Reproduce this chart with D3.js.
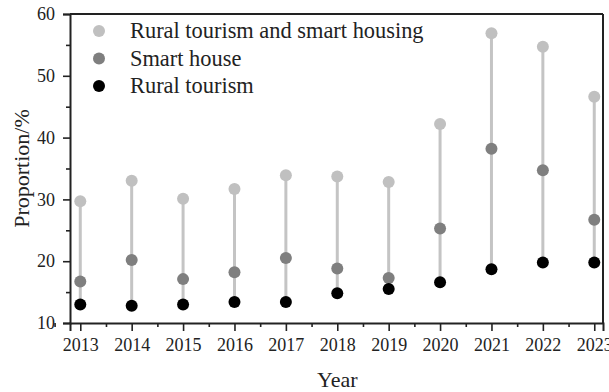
<!DOCTYPE html>
<html>
<head>
<meta charset="utf-8">
<script src="https://cdn.jsdelivr.net/npm/d3@7/dist/d3.min.js"></script>
<style>
  html, body { margin: 0; padding: 0; background: #fff; }
  svg { display: block; font-family: "Liberation Serif", "Times New Roman", serif; }
</style>
</head>
<body>
<svg id="chart" width="609" height="392"></svg>
<script>
// Share of rural tourism, smart house and combined, per year (%)
const years = [2013, 2014, 2015, 2016, 2017, 2018, 2019, 2020, 2021, 2022, 2023];
const combined = [29.7, 33.0, 30.1, 31.7, 33.9, 33.7, 32.8, 42.2, 56.9, 54.7, 46.6];
const smartHouse = [16.7, 20.2, 17.1, 18.2, 20.5, 18.8, 17.3, 25.3, 38.2, 34.7, 26.7];
const ruralTourism = [13.0, 12.8, 13.0, 13.4, 13.4, 14.8, 15.5, 16.6, 18.7, 19.8, 19.8];
const yTicks = [10, 20, 30, 40, 50, 60];
const seriesNames = ["Rural tourism and smart housing", "Smart house", "Rural tourism"];
const seriesColors = ["#c0c0c0", "#7f7f7f", "#000000"];

const svg = d3.select("#chart");
const m = { left: 70, right: 6, top: 14, bottom: 69 };
const W = 609, H = 392;
const plotW = W - m.left - m.right, plotH = H - m.top - m.bottom;

const x = d3.scaleLinear().domain([2012.8, 2023.17]).range([m.left, m.left + plotW]);
const y = d3.scaleLinear().domain([10, 60]).range([m.top + plotH, m.top]);

// Minor ticks halfway between the major ones
const xMinor = d3.range(2012.5, 2023.6, 1);
const yMinor = [15, 25, 35, 45, 55];

const axisColor = "#222";
const serif = "'Liberation Serif', 'Times New Roman', serif";

// X axis
svg.append("g").attr("transform", `translate(0,${m.top + plotH})`)
  .call(d3.axisBottom(x).tickValues(years).tickFormat(d3.format("d")).tickSize(8).tickPadding(7));
svg.append("g").attr("transform", `translate(0,${m.top + plotH})`)
  .call(d3.axisBottom(x).tickValues(xMinor).tickFormat("").tickSize(4))
  .call(g => g.select(".domain").remove());

// Y axis
svg.append("g").attr("transform", `translate(${m.left},0)`)
  .call(d3.axisLeft(y).tickValues(yTicks).tickSize(7).tickPadding(8));
svg.append("g").attr("transform", `translate(${m.left},0)`)
  .call(d3.axisLeft(y).tickValues(yMinor).tickFormat("").tickSize(4))
  .call(g => g.select(".domain").remove());

svg.selectAll(".domain").attr("stroke", axisColor).attr("stroke-width", 2);
svg.selectAll(".tick line").attr("stroke", axisColor).attr("stroke-width", 1.6);
svg.selectAll(".tick text").attr("fill", "#222")
  .style("font-family", serif).style("font-size", "18px");

// Top and right frame
svg.append("line").attr("x1", m.left).attr("x2", m.left + plotW)
  .attr("y1", m.top).attr("y2", m.top).attr("stroke", axisColor).attr("stroke-width", 2);
svg.append("line").attr("x1", m.left + plotW).attr("x2", m.left + plotW)
  .attr("y1", m.top).attr("y2", m.top + plotH).attr("stroke", axisColor).attr("stroke-width", 2);

// Stems joining rural tourism to the combined value
const rows = years.map((yr, i) => ({ yr, c: combined[i], s: smartHouse[i], r: ruralTourism[i] }));
svg.append("g").selectAll("line").data(rows).join("line")
  .attr("x1", d => x(d.yr)).attr("x2", d => x(d.yr))
  .attr("y1", d => y(d.r)).attr("y2", d => y(d.c))
  .attr("stroke", "#c4c4c4").attr("stroke-width", 3);

// Points
const seriesData = [combined, smartHouse, ruralTourism];
seriesData.forEach((vals, k) => {
  svg.append("g").selectAll("circle").data(vals).join("circle")
    .attr("cx", (d, i) => x(years[i])).attr("cy", d => y(d))
    .attr("r", 6).attr("fill", seriesColors[k]);
});

// Legend
const leg = svg.append("g");
seriesNames.forEach((name, k) => {
  const ly = 31 + k * 27.5;
  leg.append("circle").attr("cx", 99).attr("cy", ly).attr("r", 6).attr("fill", seriesColors[k]);
  leg.append("text").attr("x", 130).attr("y", ly).attr("dy", "0.33em")
    .attr("fill", "#222").style("font-family", serif).style("font-size", "22.4px").text(name);
});

// Axis titles
svg.append("text").attr("x", x(2018)).attr("y", 387)
  .attr("text-anchor", "middle").attr("fill", "#222")
  .style("font-family", serif).style("font-size", "22px").text("Year");
svg.append("text").attr("transform", `translate(29,${y(35)}) rotate(-90)`)
  .attr("text-anchor", "middle").attr("fill", "#222")
  .style("font-family", serif).style("font-size", "22px").text("Proportion/%");
</script>
</body>
</html>
